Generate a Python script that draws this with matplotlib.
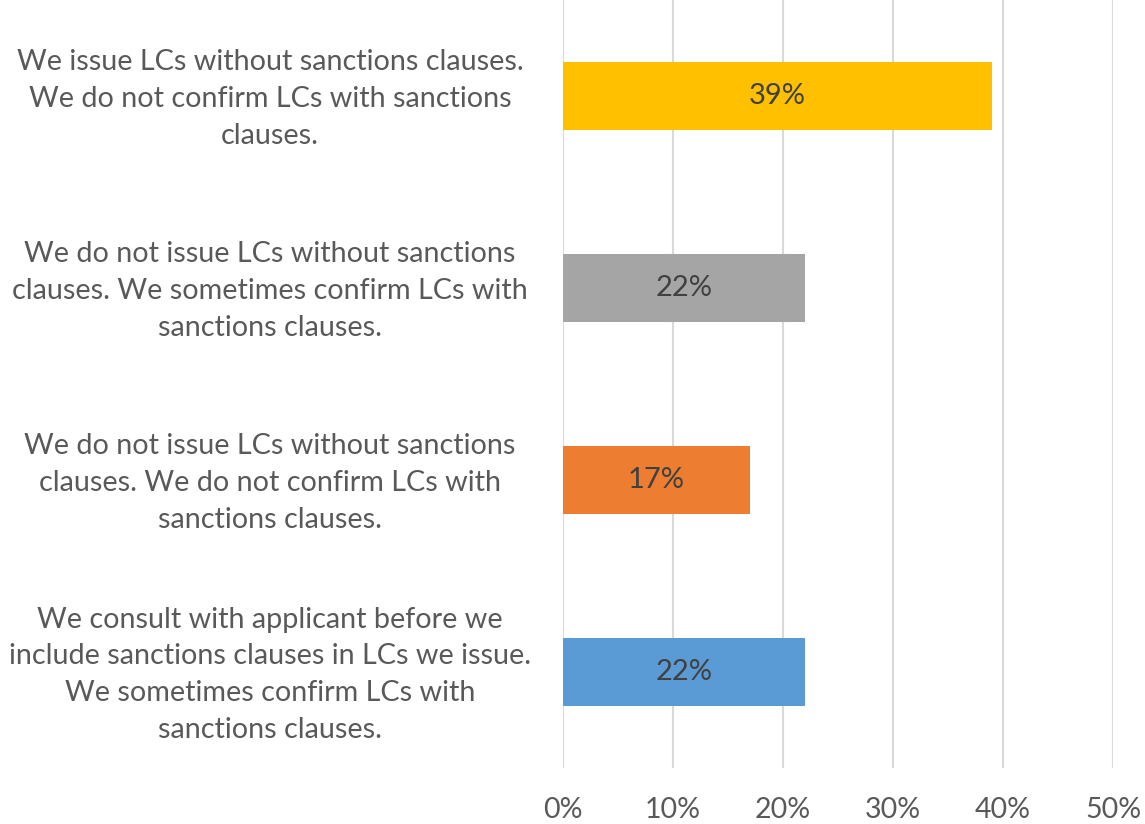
import matplotlib
matplotlib.use("Agg")
import matplotlib.pyplot as plt
from matplotlib.ticker import FuncFormatter
import matplotlib.transforms as mtransforms

plt.rcParams['font.family'] = ['Lato', 'DejaVu Sans']

categories = [
    "We consult with applicant before we\ninclude sanctions clauses in LCs we issue.\nWe sometimes confirm LCs with\nsanctions clauses.",
    "We do not issue LCs without sanctions\nclauses. We do not confirm LCs with\nsanctions clauses.",
    "We do not issue LCs without sanctions\nclauses. We sometimes confirm LCs with\nsanctions clauses.",
    "We issue LCs without sanctions clauses.\nWe do not confirm LCs with sanctions\nclauses.",
]
values = [22, 17, 22, 39]
colors = ["#5B9BD5", "#ED7D31", "#A5A5A5", "#FFC000"]
xticks = [0, 10, 20, 30, 40, 50]

fig = plt.figure(figsize=(11.45, 8.24), dpi=100)
ax = fig.add_axes([563/1145, 1-768/824, 550/1145, 768/824])

y = list(range(len(categories)))
bars = ax.barh(y, values, height=0.355, color=colors, zorder=3)
for b, v in zip(bars, values):
    ax.text(b.get_width()/2, b.get_y()+b.get_height()/2, f"{v}%",
            ha='center', va='center', fontsize=21, color='#404040', zorder=4)

ax.set_xlim(0, 50)
ax.set_ylim(-0.5, len(categories)-0.5)
ax.set_xticks(xticks)
ax.xaxis.set_major_formatter(FuncFormatter(lambda v, p: f"{int(v)}%"))
ax.grid(axis='x', color='#D9D9D9', linewidth=1.5, zorder=0)
ax.grid(axis='y', visible=False)
for s in ax.spines.values():
    s.set_visible(False)
ax.tick_params(axis='x', length=0, pad=21, labelsize=20.5, labelcolor='#595959')
ax.tick_params(axis='y', length=0, labelsize=20.7, labelcolor='#595959')

ax.set_yticks(y)
ax.set_yticklabels(categories)
offset = mtransforms.ScaledTranslation(-288/100, 5/100, fig.dpi_scale_trans)
for lab in ax.get_yticklabels():
    lab.set_horizontalalignment('center')
    lab.set_multialignment('center')
    lab.set_linespacing(1.52)
    lab.set_transform(lab.get_transform() + offset)

fig.savefig("out.png", dpi=100, facecolor='white')
